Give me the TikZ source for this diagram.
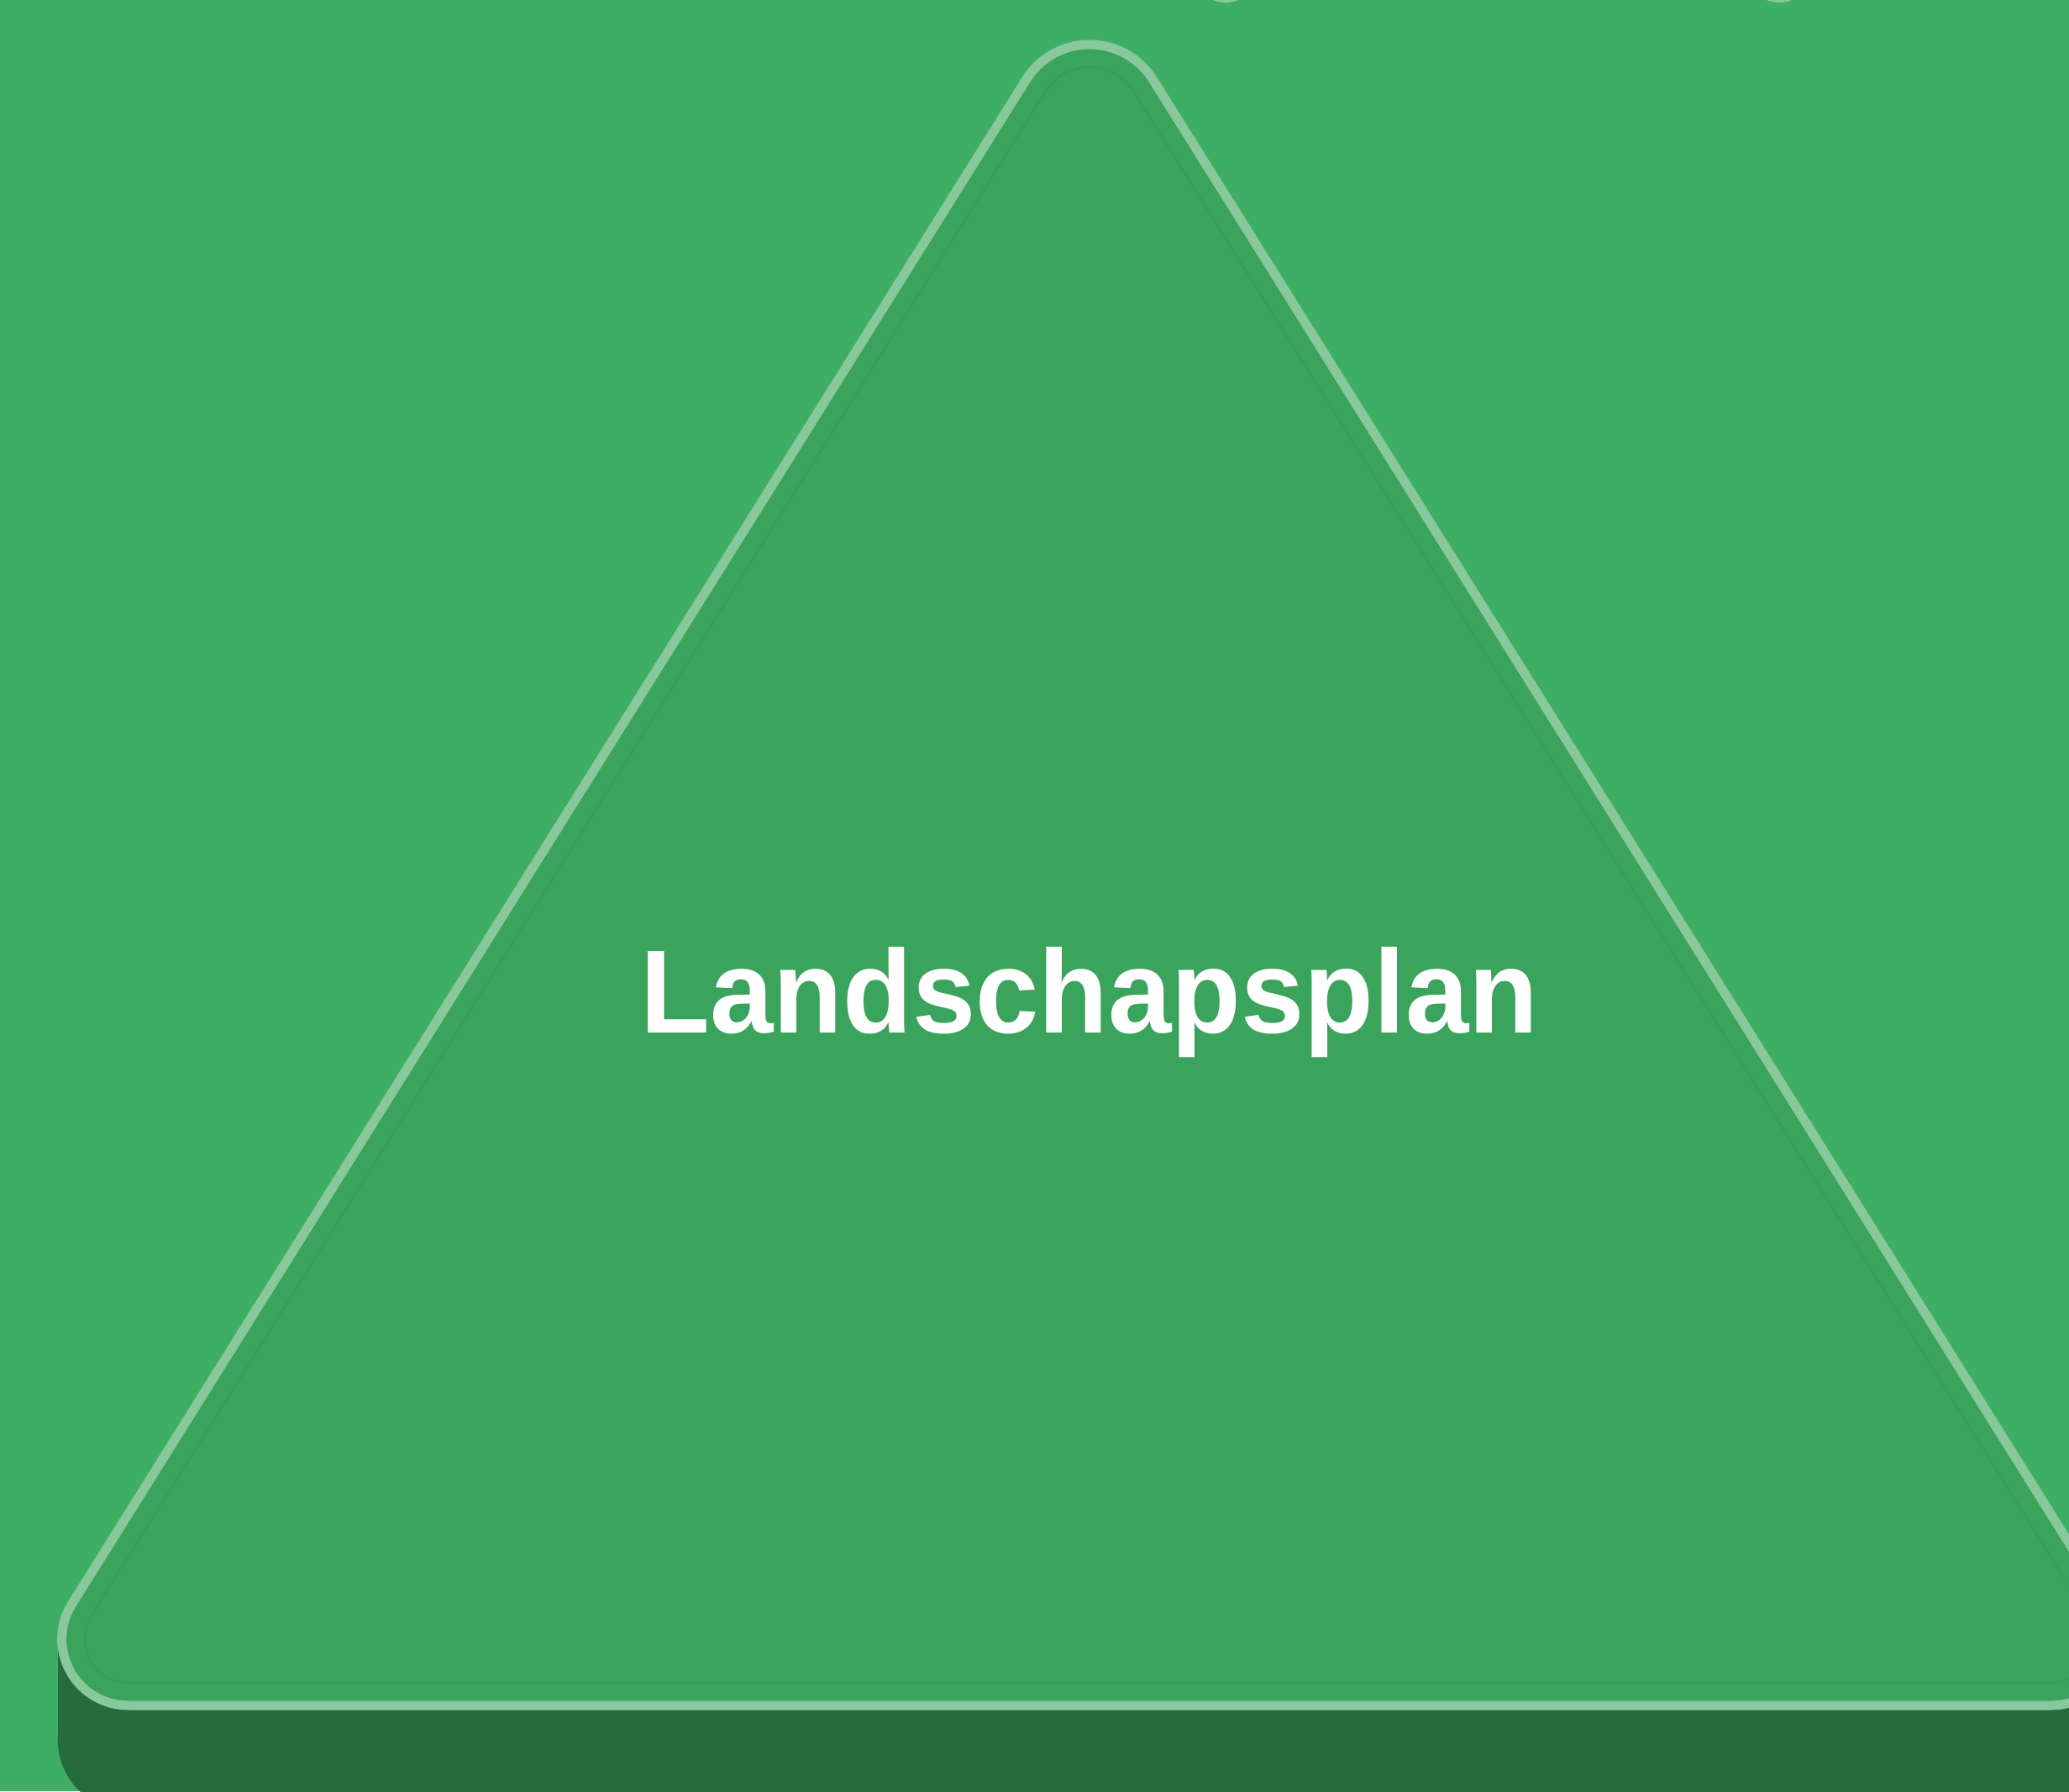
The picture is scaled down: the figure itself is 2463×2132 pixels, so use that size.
\documentclass[tikz,border=0pt]{standalone}
\usepackage{fontspec}
\setmainfont{Liberation Sans}
\usetikzlibrary{calc}
\definecolor{bgGreen}{HTML}{3EAE64}
\definecolor{triFill}{HTML}{3AA35C}
\definecolor{triEdge}{HTML}{88C89C}
\definecolor{baseDark}{HTML}{256B3C}
\definecolor{innerLine}{HTML}{379D5A}
% rounded triangle with circular corners: apex centre (1297,1990), base centres (152.7,181) and (2441.3,181)
\def\tri#1{%
  (1297,1990) ++(32.05:#1+89) arc[start angle=32.05, end angle=147.95, radius=#1+89]
  -- ($(152.7,181)+(147.95:#1+79)$) arc[start angle=147.95, end angle=270, radius=#1+79]
  -- ($(2441.3,181)+(270:#1+79)$) arc[start angle=270, end angle=392.05, radius=#1+79]
  -- cycle}
\begin{document}
\begin{tikzpicture}[x=0.01cm,y=0.01cm]
\useasboundingbox (0,0) rectangle (2463,2132);
\clip (0,0) rectangle (2463,2132);
\fill[bgGreen] (0,0) rectangle (2463,2132);
% partial shapes peeking at top edge
\fill[triEdge] (1459,2169) circle (40);
\fill[triEdge] (2118,2169) circle (40);
% extruded dark base
\fill[baseDark] (69,61) rectangle (2525,181);
\begin{scope}[shift={(0,-120)}]
  \fill[baseDark] \tri{5};
\end{scope}
% main triangle
\filldraw[fill=triFill, draw=triEdge, line width=0.11cm] \tri{0};
% inner faint outline
\draw[innerLine, line width=0.02cm] \tri{-27};
% label
\node[font=\bfseries\fontsize{40.1}{48}\selectfont, text=white, anchor=base, inner sep=0pt] (title) at (1297,902) {\scalebox{0.96}[1]{Landschapsplan}};
\end{tikzpicture}
\end{document}
